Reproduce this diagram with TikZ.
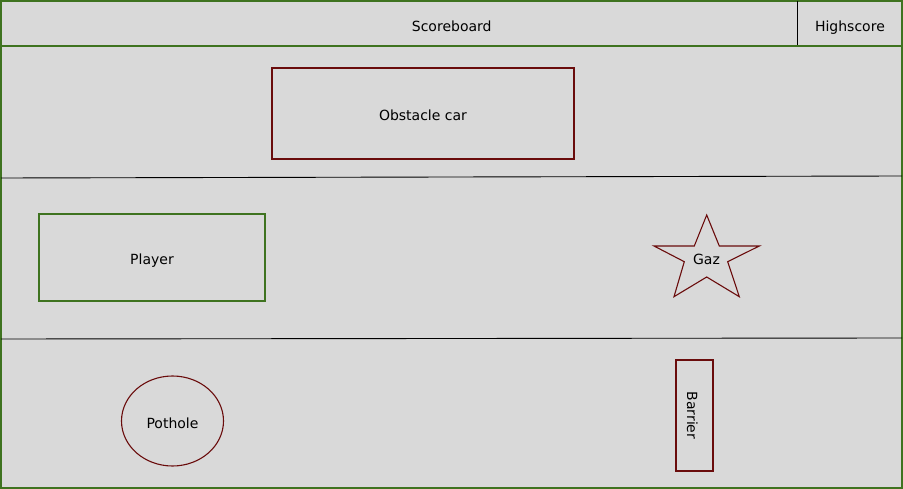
\documentclass[tikz,border=0pt]{standalone}
\usepackage{fontspec}
\setmainfont{DejaVu Sans}
\usetikzlibrary{positioning,shapes.geometric}
\definecolor{frame}{HTML}{3F7320}
\definecolor{wine}{HTML}{6A0C0C}
\definecolor{road}{HTML}{D9D9D9}

\begin{document}
\begin{tikzpicture}[x=1pt,y=-1pt,font=\fontsize{14}{16}\selectfont,
  every node/.style={text height=15pt,text depth=0pt}]
\tikzset{
  redbox/.style={draw=wine,line width=1.1pt,inner sep=0pt},
  greenbox/.style={draw=frame,line width=1.1pt,inner sep=0pt},
  lane/.style={draw=black,line width=0.9pt}
}
\useasboundingbox (0,0) rectangle (903,489);
\draw[frame,fill=road,line width=1.3pt] (1,1) rectangle (902,488);
% top bar
\node[minimum width=901pt,minimum height=45pt,inner sep=0pt,anchor=north west] (score) at (1,1) {Scoreboard};
\node[minimum width=104.5pt,minimum height=45pt,inner sep=0pt,anchor=north west] (high) at (797.5,1) {Highscore};
\draw[line width=0.8pt] (high.north west) -- (high.south west);
\draw[frame,line width=2pt] (score.south west) -- (score.south east);
% lanes
\coordinate (l1w) at (1,178);
\coordinate (l1e) at (902,176);
\coordinate (l2w) at (1,339);
\coordinate (l2e) at (902,338);
\draw[lane] (l1w) -- (l1e);
\draw[lane] (l2w) -- (l2e);
% objects
\node[redbox,minimum width=302pt,minimum height=91pt] (car) at (423,113.5) {Obstacle car};
\node[greenbox,minimum width=226pt,minimum height=87pt] (player) at (152,257.5) {Player};
\node[redbox,ellipse,minimum width=102pt,minimum height=90pt] (pothole) at (172.5,421) {Pothole};
\node[redbox,rotate=-90,minimum width=111pt,minimum height=37pt] (barrier) at (694.5,415.5) {Barrier};
\draw[wine,line width=1.1pt,line join=miter] (706.7,215) -- (719.3,246) -- (759.3,246) -- (727.7,261.7)
  -- (739.3,296.7) -- (706.7,277) -- (674,296.7) -- (684.3,261.7) -- (654,246) -- (694.3,246) -- cycle;
\node (gaz) at (706.5,257) {Gaz};
\end{tikzpicture}
\end{document}
